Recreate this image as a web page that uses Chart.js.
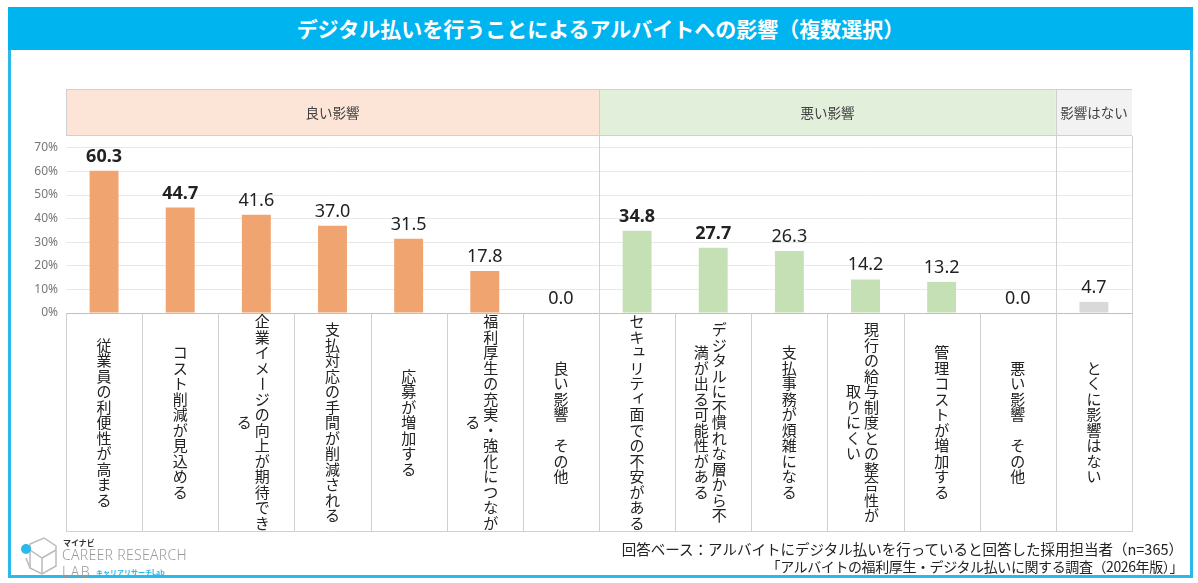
<!DOCTYPE html>
<html lang="ja">
<head>
<meta charset="utf-8">
<title>デジタル払いを行うことによるアルバイトへの影響</title>
<script src="https://cdn.jsdelivr.net/npm/chart.js@4.4.1/dist/chart.umd.min.js"></script>
<style>
  html, body { margin: 0; padding: 0; background: #fff; }
  body { width: 1198px; height: 583px; position: relative; overflow: hidden;
         font-family: "Noto Sans CJK JP", "Noto Sans", sans-serif; }
  #frame { position: absolute; left: 8px; top: 7px; width: 1179px; height: 568px;
           border: 3px solid #2bb8ea; border-top: none; }
  #titleBar { position: absolute; left: 8px; top: 7px; width: 1185px; height: 43px;
              background: #00b5ef; color: #fff; font-weight: bold; font-size: 21px;
              line-height: 43px; text-align: center; }
  #chart { position: absolute; left: 0; top: 0; }
  .note { position: absolute; right: 15px; font-size: 14.5px; color: #222; white-space: nowrap; }
  #logo { position: absolute; left: 18px; top: 536px; width: 180px; height: 44px; }
  #logo .mn { position: absolute; left: 45px; top: 1px; font-size: 8px; font-weight: bold; color: #333; }
  #logo .cr { position: absolute; left: 44px; top: 9px; font-size: 14px; color: #9a9a9a;
              font-family: "Noto Sans", sans-serif; font-weight: 300; letter-spacing: 0.3px; }
  #logo .lab { position: absolute; left: 44px; top: 26px; font-size: 14px; color: #9a9a9a;
               font-family: "Noto Sans", sans-serif; font-weight: 300; letter-spacing: 1.5px; }
  #logo .kana { position: absolute; left: 78px; top: 31px; font-size: 7px; color: #2bb8ea; font-weight: bold; }
</style>
</head>
<body>
<div id="frame"></div>
<div id="titleBar">デジタル払いを行うことによるアルバイトへの影響（複数選択）</div>
<canvas id="chart" width="1198" height="583"></canvas>
<div class="note" style="top:538px;">回答ベース：アルバイトにデジタル払いを行っていると回答した採用担当者（n=365）</div>
<div class="note" style="top:556px; font-size:14px; letter-spacing:-0.4px;">「アルバイトの福利厚生・デジタル払いに関する調査（2026年版）」</div>
<div id="logo">
  <svg width="42" height="44" viewBox="0 0 42 44" style="position:absolute;left:0;top:0">
    <path d="M12 8 L26 2 L38 10 L38 30 L24 38 L12 32 Z" fill="none" stroke="#bbb" stroke-width="1.5"/>
    <path d="M12 14 L24 22 L38 14 M24 22 L24 38 M8 22 L12 32" fill="none" stroke="#bbb" stroke-width="1.5"/>
    <circle cx="8" cy="13" r="5" fill="#2bb8ea"/>
  </svg>
  <div class="mn">マイナビ</div>
  <div class="cr">CAREER RESEARCH</div>
  <div class="lab">LAB</div>
  <div class="kana">キャリアリサーチLab</div>
</div>
<script>
// categories, each split into its vertical text columns (right to left)
const categories = [
    ["従業員の利便性が高まる"],
    ["コスト削減が見込める"],
    ["企業イメージの向上が期待でき", "る"],
    ["支払対応の手間が削減される"],
    ["応募が増加する"],
    ["福利厚生の充実・強化につなが", "る"],
    ["良い影響　その他"],
    ["セキュリティ面での不安がある"],
    ["デジタルに不慣れな層から不", "満が出る可能性がある"],
    ["支払事務が煩雑になる"],
    ["現行の給与制度との整合性が", "取りにくい"],
    ["管理コストが増加する"],
    ["悪い影響　その他"],
    ["とくに影響はない"]
];
const values = [60.3, 44.7, 41.6, 37.0, 31.5, 17.8, 0.0, 34.8, 27.7, 26.3, 14.2, 13.2, 0.0, 4.7];
const groupOf = [0, 0, 0, 0, 0, 0, 0, 1, 1, 1, 1, 1, 1, 2];
const groupNames = ["良い影響", "悪い影響", "影響はない"];
const boldIdx = [0, 1, 7, 8];
const yTicks = [0, 10, 20, 30, 40, 50, 60, 70];

const barColors = ['#f0a46f', '#c5e0b4', '#d9d9d9'];
const headColors = ['#fce4d6', '#e2efda', '#f2f2f2'];
const lineColor = '#d0d0d0';

function drawColumn(ctx, text, x, cy, pitch) {
    const chars = [...text];
    let y = cy - (chars.length - 1) * pitch / 2;
    chars.forEach(ch => {
        if (ch === 'ー') {
            ctx.save();
            ctx.translate(x, y);
            ctx.rotate(Math.PI / 2);
            ctx.fillText(ch, 0, 0);
            ctx.restore();
        } else if ('ィュッャョァ'.includes(ch)) {
            ctx.fillText(ch, x + 2, y - 3);
        } else {
            ctx.fillText(ch, x, y);
        }
        y += pitch;
    });
}

const framePlugin = {
    id: 'framePlugin',
    beforeDraw(chart) {
        const ctx = chart.ctx;
        const a = chart.chartArea;
        const xs = chart.scales.x;
        const half = (xs.getPixelForValue(1) - xs.getPixelForValue(0)) / 2;
        const headTop = a.top - 47;
        // group header bands
        for (let g = 0; g < groupNames.length; g++) {
            const idx = groupOf.map((v, i) => v === g ? i : -1).filter(i => i >= 0);
            const x0 = xs.getPixelForValue(idx[0]) - half;
            const x1 = xs.getPixelForValue(idx[idx.length - 1]) + half;
            ctx.fillStyle = headColors[g];
            ctx.fillRect(x0, headTop, x1 - x0, a.top - headTop);
            ctx.fillStyle = '#404040';
            ctx.font = '13.5px "Noto Sans CJK JP"';
            ctx.textAlign = 'center';
            ctx.textBaseline = 'middle';
            ctx.fillText(groupNames[g], (x0 + x1) / 2, (headTop + a.top) / 2);
        }
        ctx.strokeStyle = lineColor;
        ctx.lineWidth = 1;
        ctx.beginPath();
        ctx.moveTo(a.left, headTop + 0.5); ctx.lineTo(a.right, headTop + 0.5);
        ctx.moveTo(a.left + 0.5, headTop); ctx.lineTo(a.left + 0.5, a.top);
        ctx.moveTo(a.left, a.top - 0.5); ctx.lineTo(a.right, a.top - 0.5);
        ctx.stroke();
    },
    afterDraw(chart) {
        const ctx = chart.ctx;
        const a = chart.chartArea;
        const xs = chart.scales.x;
        const half = (xs.getPixelForValue(1) - xs.getPixelForValue(0)) / 2;
        const headTop = a.top - 47;
        const labelBottom = xs.bottom;
        ctx.save();
        ctx.strokeStyle = lineColor;
        ctx.lineWidth = 1;
        ctx.beginPath();
        // column dividers in the label area
        for (let i = 0; i <= categories.length; i++) {
            const x = Math.round(xs.getPixelForValue(0) - half + i * half * 2) + 0.5;
            const isGroupEdge = i < categories.length && i > 0 && groupOf[i] !== groupOf[i - 1];
            const top = isGroupEdge ? headTop : (i === categories.length ? a.top : a.bottom);
            ctx.moveTo(x, top);
            ctx.lineTo(x, labelBottom);
        }
        ctx.moveTo(a.left, labelBottom - 0.5);
        ctx.lineTo(a.right, labelBottom - 0.5);
        ctx.stroke();

        // vertical category labels
        ctx.fillStyle = '#222';
        ctx.font = '15px "Noto Sans CJK JP"';
        ctx.textAlign = 'center';
        ctx.textBaseline = 'middle';
        const cy = (a.bottom + labelBottom) / 2;
        categories.forEach((cols, i) => {
            const cx = xs.getPixelForValue(i);
            if (cols.length === 1) {
                drawColumn(ctx, cols[0], cx, cy, 15.5);
            } else {
                drawColumn(ctx, cols[0], cx + 6, cy, 15.5);
                drawColumn(ctx, cols[1], cx - 12, cy, 15.5);
            }
        });
        ctx.restore();
    },
    afterDatasetsDraw(chart) {
        const ctx = chart.ctx;
        const meta = chart.getDatasetMeta(0);
        ctx.save();
        ctx.fillStyle = '#222';
        ctx.textAlign = 'center';
        ctx.textBaseline = 'alphabetic';
        meta.data.forEach((bar, i) => {
            ctx.font = (boldIdx.includes(i) ? 'bold ' : '') + '18px "Noto Sans", sans-serif';
            ctx.fillText(values[i].toFixed(1), bar.x, bar.y - 9);
        });
        ctx.restore();
    }
};

new Chart(document.getElementById('chart'), {
    type: 'bar',
    data: {
        labels: categories.map(c => c.join('')),
        datasets: [{
            data: values,
            backgroundColor: groupOf.map(g => barColors[g]),
            barPercentage: 0.38,
            categoryPercentage: 1.0
        }]
    },
    options: {
        responsive: false,
        animation: false,
        layout: { padding: { top: 136, left: 26, right: 66, bottom: 51 } },
        plugins: { legend: { display: false }, tooltip: { enabled: false } },
        scales: {
            x: {
                ticks: { display: false },
                grid: { display: false },
                border: { color: '#bfbfbf' },
                afterFit: (scale) => { scale.height = 219; }
            },
            y: {
                min: 0,
                max: 75,
                afterBuildTicks: (axis) => { axis.ticks = yTicks.map(v => ({ value: v })); },
                ticks: {
                    callback: v => v + '%',
                    color: '#777',
                    padding: 8,
                    font: { size: 12, family: '"Noto Sans", sans-serif' }
                },
                grid: { color: '#e8e8e8', drawTicks: false },
                border: { display: false },
                afterFit: (scale) => { scale.width = 40; }
            }
        }
    },
    plugins: [framePlugin]
});
</script>
</body>
</html>
